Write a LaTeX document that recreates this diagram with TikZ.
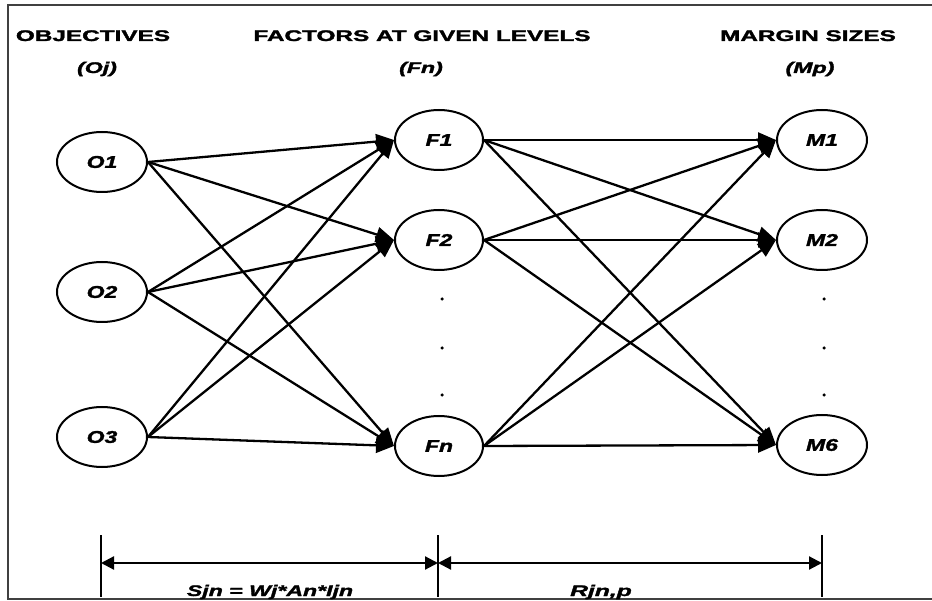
\documentclass[tikz,border=0pt]{standalone}
\usepackage{fontspec}
\setmainfont{Liberation Sans}[BoldFeatures={FakeBold=1.6}, BoldItalicFeatures={FakeBold=1.6}]
\usetikzlibrary{arrows.meta,shapes.geometric}

% widened bold lettering
\newcommand{\wtxt}[2]{\scalebox{#1}[1]{#2}}

\tikzset{
  heading/.style={font=\fontsize{15.4}{18}\selectfont\bfseries, anchor=base, inner sep=0pt},
  subhead/.style={font=\fontsize{15.4}{18}\selectfont\bfseries\itshape, anchor=base, inner sep=0pt},
  level/.style={draw, ellipse, line width=2pt, minimum width=90pt, minimum height=60pt,
                inner sep=0pt, font=\fontsize{17}{20}\selectfont\bfseries\itshape},
  link/.style={line width=2.3pt, -{Triangle[length=18pt,width=15pt]}},
  gap/.style={circle, fill, inner sep=0pt, minimum size=3.5pt},
  dimline/.style={line width=2.2pt, {Triangle[length=13pt,width=13pt]}-{Triangle[length=13pt,width=13pt]}},
  tick/.style={line width=1.8pt},
  frame/.style={line width=1.5pt, draw=black!75},
  dimlabel/.style={font=\fontsize{15.4}{18}\selectfont\bfseries\itshape, anchor=base, inner sep=0pt}
}

\begin{document}
\begin{tikzpicture}[x=1pt, y=-1pt]
\useasboundingbox (0,0) rectangle (932,601);

% frame
\draw[frame] (932,5) -- (8,5) -- (8,599) -- (932,599);

% column headings
\node[heading] (hO) at (93,41) {\wtxt{1.58}{OBJECTIVES}};
\node[heading] (hF) at (422,41) {\wtxt{1.58}{FACTORS AT GIVEN LEVELS}};
\node[heading] (hM) at (808,41) {\wtxt{1.58}{MARGIN SIZES}};
\node[subhead] (sO) at (97,73) {\wtxt{1.5}{(Oj)}};
\node[subhead] (sF) at (421,73) {\wtxt{1.5}{(Fn)}};
\node[subhead] (sM) at (810,73) {\wtxt{1.5}{(Mp)}};

% objectives
\node[level] (O1) at (102,162) {\wtxt{1.35}{O1}};
\node[level] (O2) at (102,292) {\wtxt{1.35}{O2}};
\node[level] (O3) at (102,437) {\wtxt{1.35}{O3}};

% factors
\node[level, minimum width=88pt] (F1) at (439,140) {\wtxt{1.35}{F1}};
\node[level, minimum width=88pt] (F2) at (439,240) {\wtxt{1.35}{F2}};
\node[level, minimum width=88pt] (Fn) at (439,446) {\wtxt{1.35}{Fn}};

% margin sizes
\node[level] (M1) at (822,140) {\wtxt{1.35}{M1}};
\node[level] (M2) at (822,240) {\wtxt{1.35}{M2}};
\node[level] (M6) at (822,445) {\wtxt{1.35}{M6}};

% ellipsis dots
\node[gap] (fd1) at (442,299) {};
\node[gap] (fd2) at (442,348) {};
\node[gap] (fd3) at (442,395) {};
\node[gap] (md1) at (824,299) {};
\node[gap] (md2) at (824,348) {};
\node[gap] (md3) at (824,395) {};

% objectives -> factors
\foreach \s in {O1,O2,O3}
  \foreach \t in {F1,F2,Fn}
    \draw[link] (\s.east) -- (\t.west);

% factors -> margin sizes
\foreach \s in {F1,F2,Fn}
  \foreach \t in {M1,M2,M6}
    \draw[link] (\s.east) -- (\t.west);

% dimension lines
\coordinate (tA) at (101,535);
\coordinate (tB) at (438,535);
\coordinate (tC) at (822,535);
\coordinate (bA) at (101,597);
\coordinate (bB) at (438,597);
\coordinate (bC) at (822,597);
\coordinate (dA) at (101,563);
\coordinate (dB) at (438,563);
\coordinate (dC) at (822,563);
\draw[tick] (tA) -- (bA);
\draw[tick] (tB) -- (bB);
\draw[tick] (tC) -- (bC);
\draw[dimline] (dA) -- (dB);
\draw[dimline] (dB) -- (dC);

\node[dimlabel] (lS) at (270,596) {\wtxt{1.5}{Sjn = Wj*An*Ijn}};
\node[dimlabel] (lR) at (601,596) {\wtxt{1.6}{Rjn,p}};
\end{tikzpicture}
\end{document}
